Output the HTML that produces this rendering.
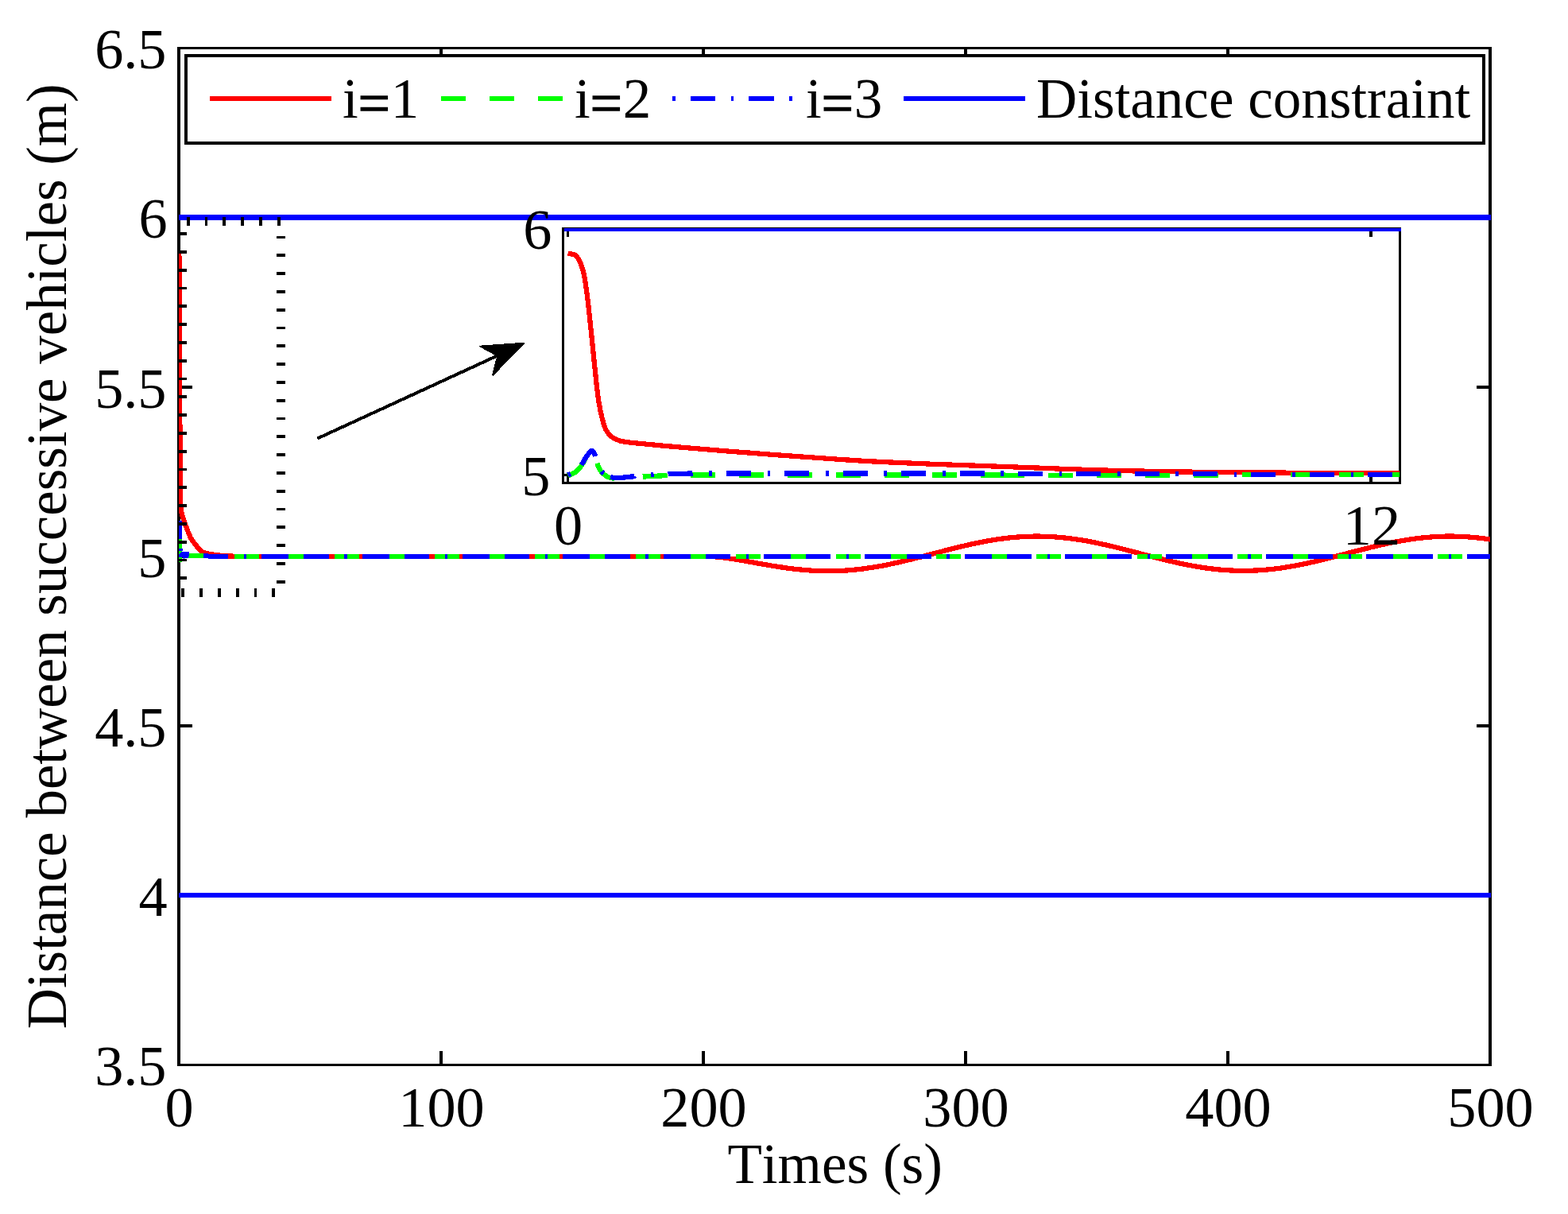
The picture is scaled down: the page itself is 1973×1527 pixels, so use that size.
<!DOCTYPE html>
<html lang="en"><head><meta charset="utf-8"><title>Distance between successive vehicles</title>
<style>html,body{margin:0;padding:0;background:#fff}body{width:1973px;height:1527px;overflow:hidden}</style>
</head><body>
<svg width="1973" height="1527" viewBox="0 0 1973 1527" style="display:block;font-family:'Liberation Serif',serif;font-kerning:none;font-variant-ligatures:none">
<defs><clipPath id="cm"><rect x="225" y="60.5" width="1650" height="1279"/></clipPath><clipPath id="ci"><rect x="708.5" y="287.5" width="1053" height="320"/></clipPath></defs>
<rect width="1973" height="1527" fill="#fff"/>
<g fill="#000" shape-rendering="crispEdges">
<rect x="223" y="59" width="1654" height="3"/>
<rect x="223" y="1338" width="1654" height="3"/>
<rect x="223" y="59" width="4" height="1282"/>
<rect x="1873" y="59" width="4" height="1282"/>
<rect x="553" y="1322" width="4" height="16"/>
<rect x="553" y="62" width="4" height="16"/>
<rect x="883" y="1322" width="4" height="16"/>
<rect x="883" y="62" width="4" height="16"/>
<rect x="1213" y="1322" width="4" height="16"/>
<rect x="1213" y="62" width="4" height="16"/>
<rect x="1543" y="1322" width="4" height="16"/>
<rect x="1543" y="62" width="4" height="16"/>
<rect x="227" y="1125" width="15" height="4"/>
<rect x="1858" y="1125" width="15" height="4"/>
<rect x="227" y="911" width="15" height="4"/>
<rect x="1858" y="911" width="15" height="4"/>
<rect x="227" y="698" width="15" height="4"/>
<rect x="1858" y="698" width="15" height="4"/>
<rect x="227" y="485" width="15" height="4"/>
<rect x="1858" y="485" width="15" height="4"/>
<rect x="227" y="272" width="15" height="4"/>
<rect x="1858" y="272" width="15" height="4"/>
</g>
<defs><clipPath id="cm2"><rect x="225" y="62" width="1651" height="1276"/></clipPath></defs>
<g clip-path="url(#cm2)" fill="none" stroke-width="6.25" shape-rendering="crispEdges" stroke-linejoin="round">
<path d="M225.0 317.0L225.2 317.6L225.3 318.8L225.5 324.9L225.7 336.4L225.8 358.4L226.0 399.4L226.2 453.8L226.3 510.7L226.5 563.7L226.7 595.9L226.8 616.6L227.0 627.2L227.1 633.5L227.3 637.2L227.5 639.8L227.6 641.5L227.8 642.6L228.0 643.4L228.1 644.1L228.3 644.7L228.5 645.3L228.6 645.8L228.8 646.3L229.0 646.9L229.1 647.5L229.3 648.1L229.5 648.6L229.6 649.2L229.8 649.7L229.9 650.2L230.1 650.8L230.3 651.3L230.4 651.8L230.6 652.3L230.8 652.8L230.9 653.3L231.1 653.7L231.3 654.2L231.4 654.7L231.6 655.2L231.8 655.7L231.9 656.1L232.1 656.6L232.3 657.1L232.4 657.5L232.6 658.0L232.8 658.5L232.9 658.9L233.1 659.4L233.2 659.9L233.4 660.3L233.6 660.8L233.7 661.2L233.9 661.7L234.1 662.1L234.2 662.6L234.4 663.0L234.6 663.4L234.7 663.9L234.9 664.3L235.1 664.7L235.2 665.2L235.4 665.6L235.6 666.0L235.7 666.5L235.9 666.9L236.1 667.3L236.2 667.7L236.4 668.1L236.5 668.5L236.7 668.9L236.9 669.3L237.0 669.8L237.2 670.2L237.4 670.6L237.5 671.0L237.7 671.4L237.9 671.8L238.0 672.2L238.2 672.6L238.4 673.0L238.5 673.4L238.7 673.8L238.9 674.2L239.0 674.5L239.2 674.9L239.4 675.3L239.5 675.6L239.7 676.0L239.8 676.3L240.0 676.6L240.2 676.9L240.3 677.2L240.5 677.5L240.7 677.7L240.8 678.0L241.0 678.3L241.2 678.5L241.3 678.8L241.5 679.1L241.7 679.3L241.8 679.5L242.0 679.8L242.2 680.0L242.3 680.3L242.5 680.5L242.7 680.7L242.8 680.9L243.0 681.2L243.1 681.4L243.3 681.6L243.5 681.8L243.6 682.0L243.8 682.2L244.0 682.5L244.1 682.7L244.3 682.9L244.5 683.1L244.6 683.3L244.8 683.5L245.0 683.7L245.1 683.9L245.3 684.1L245.5 684.3L245.6 684.5L245.8 684.7L246.0 684.9L246.1 685.1L246.3 685.4L246.4 685.6L246.6 685.8L246.8 686.0L246.9 686.2L247.1 686.4L247.3 686.6L247.4 686.9L247.6 687.1L247.8 687.3L247.9 687.5L248.1 687.8L248.3 688.0L248.4 688.2L248.6 688.4L248.8 688.6L248.9 688.9L249.1 689.1L249.3 689.3L249.4 689.5L249.6 689.7L249.7 689.9L249.9 690.1L250.1 690.3L250.2 690.5L250.4 690.7L250.6 690.9L250.7 691.1L250.9 691.3L251.1 691.5L251.2 691.6L251.4 691.8L251.6 692.0L251.7 692.1L251.9 692.3L252.1 692.4L252.2 692.6L252.4 692.7L252.6 692.9L252.7 693.0L252.9 693.1L253.0 693.2L253.2 693.3L253.4 693.4L253.5 693.6L253.7 693.7L253.9 693.8L254.0 693.9L254.2 694.0L254.4 694.1L254.5 694.2L254.7 694.3L254.9 694.4L255.0 694.5L255.2 694.5L255.4 694.6L255.5 694.7L255.7 694.8L255.9 694.8L256.0 694.9L256.2 695.0L256.4 695.0L256.5 695.1L256.7 695.2L256.8 695.2L257.0 695.3L257.2 695.3L257.3 695.4L257.5 695.4L257.7 695.5L257.8 695.5L258.0 695.6L258.2 695.6L258.3 695.7L258.5 695.7L258.7 695.8L258.8 695.8L259.0 695.8L259.2 695.9L259.3 695.9L259.5 696.0L259.7 696.0L259.8 696.0L260.0 696.1L260.1 696.1L260.3 696.2L260.5 696.2L260.6 696.2L260.8 696.3L261.0 696.3L261.1 696.3L261.3 696.4L261.5 696.4L261.6 696.4L261.8 696.5L262.0 696.5L262.1 696.5L262.3 696.6L262.5 696.6L262.6 696.6L262.8 696.7L263.0 696.7L263.1 696.7L263.3 696.8L263.4 696.8L263.6 696.8L263.8 696.9L263.9 696.9L264.1 696.9L264.3 696.9L264.4 697.0L264.6 697.0L264.8 697.0L264.9 697.0L265.1 697.1L265.3 697.1L265.4 697.1L265.6 697.2L265.8 697.2L265.9 697.2L266.1 697.2L266.3 697.3L266.4 697.3L266.6 697.3L266.7 697.3L266.9 697.4L267.1 697.4L267.2 697.4L267.4 697.4L267.6 697.5L267.7 697.5L267.9 697.5L268.1 697.6L268.2 697.6L268.4 697.6L268.6 697.6L268.7 697.7L268.9 697.7L269.1 697.7L269.2 697.7L269.4 697.7L269.6 697.8L269.7 697.8L269.9 697.8L270.0 697.8L270.2 697.9L270.4 697.9L270.5 697.9L270.7 697.9L270.9 698.0L271.0 698.0L271.2 698.0L271.4 698.0L271.5 698.0L271.7 698.1L271.9 698.1L272.0 698.1L272.2 698.1L272.4 698.1L272.5 698.2L272.7 698.2L272.9 698.2L273.0 698.2L273.2 698.2L273.3 698.3L273.5 698.3L273.7 698.3L273.8 698.3L274.0 698.3L274.2 698.4L274.3 698.4L274.5 698.4L274.7 698.4L274.8 698.4L275.0 698.5L275.2 698.5L275.3 698.5L275.5 698.5L275.7 698.5L275.8 698.5L276.0 698.6L276.2 698.6L276.3 698.6L276.5 698.6L276.6 698.6L276.8 698.6L277.0 698.6L277.1 698.7L277.3 698.7L277.5 698.7L277.6 698.7L277.8 698.7L278.0 698.7L278.1 698.7L278.3 698.8L278.5 698.8L278.6 698.8L278.8 698.8L279.0 698.8L279.1 698.8L279.3 698.8L279.5 698.9L279.6 698.9L279.8 698.9L279.9 698.9L280.1 698.9L280.3 698.9L280.4 698.9L280.6 699.0L280.8 699.0L280.9 699.0L281.1 699.0L281.3 699.0L281.4 699.0L281.6 699.0L281.8 699.0L281.9 699.1L282.1 699.1L282.3 699.1L282.4 699.1L282.6 699.1L282.8 699.1L282.9 699.1L283.1 699.1L283.2 699.1L283.4 699.2L283.6 699.2L283.7 699.2L283.9 699.2L284.1 699.2L284.2 699.2L284.4 699.2L284.6 699.2L284.7 699.2L284.9 699.3L285.1 699.3L285.2 699.3L285.4 699.3L285.6 699.3L285.7 699.3L285.9 699.3L286.1 699.3L286.2 699.3L286.4 699.4L286.5 699.4L286.7 699.4L286.9 699.4L287.0 699.4L287.2 699.4L287.4 699.4L287.5 699.4L287.7 699.4L287.9 699.4L288.0 699.4L288.2 699.4L288.4 699.5L288.5 699.5L288.7 699.5L288.9 699.5L289.0 699.5L289.2 699.5L289.4 699.5L289.5 699.5L289.7 699.5L289.8 699.5L290.0 699.5L290.2 699.5L290.3 699.5L290.5 699.6L290.7 699.6L290.8 699.6L291.0 699.6L291.2 699.6L291.3 699.6L291.5 699.6L291.7 699.6L291.8 699.6L292.0 699.6L292.2 699.6L292.3 699.6L292.5 699.6L292.7 699.6L292.8 699.6L293.0 699.6L293.1 699.7L293.3 699.7L293.5 699.7L293.6 699.7L293.8 699.7L294.0 699.7L294.1 699.7L294.3 699.7L294.5 699.7L294.6 699.7L294.8 699.7L295.0 699.7L295.1 699.7L295.3 699.7L295.5 699.7L295.6 699.7L295.8 699.8L296.0 699.8L296.1 699.8L296.3 699.8L296.4 699.8L296.6 699.8L296.8 699.8L296.9 699.8L297.1 699.8L297.3 699.8L297.4 699.8L297.6 699.8L297.8 699.8L297.9 699.8L298.1 699.8L298.3 699.8L298.4 699.8L298.6 699.8L298.8 699.8L298.9 699.9L299.1 699.9L299.3 699.9L299.4 699.9L299.6 699.9L299.7 699.9L299.9 699.9L300.1 699.9L300.2 699.9L300.4 699.9L300.6 699.9L300.7 699.9L300.9 699.9L301.1 699.9L301.2 699.9L301.4 699.9L301.6 699.9L301.7 699.9L301.9 699.9L302.1 699.9L302.2 699.9L302.4 699.9L302.6 699.9L302.7 700.0L302.9 700.0L303.0 700.0L303.2 700.0L303.4 700.0L303.5 700.0L303.7 700.0L303.9 700.0L304.0 700.0L304.2 700.0L304.4 700.0L304.5 700.0L304.7 700.0L304.9 700.0L305.0 700.0L305.2 700.0L305.4 700.0L305.5 700.0L305.7 700.0L305.9 700.0L306.0 700.0L306.2 700.0L306.3 700.0L306.5 700.0L306.7 700.0L306.8 700.0L307.0 700.0L307.2 700.0L307.3 700.0L307.5 700.0L307.7 700.0L307.8 700.0L308.0 700.0L308.2 700.0L308.3 700.0L308.5 700.0L308.7 700.0L308.8 700.0L309.0 700.0L309.2 700.0L309.3 700.0L309.5 700.0L309.6 700.0L309.8 700.0L310.0 700.0L310.1 700.0L310.3 700.0L310.5 700.0L310.6 700.0L310.8 700.0L311.0 700.0L311.1 700.0L311.3 700.0L311.5 700.0L311.6 700.0L311.8 700.0L312.0 700.0L312.1 700.0L312.3 700.0L312.5 700.0L312.6 700.0L312.8 700.0L312.9 700.0L313.1 700.0L313.3 700.0L313.4 700.0L313.6 700.0L313.8 700.0L313.9 700.0L314.1 700.0L314.3 700.0L314.4 700.0L314.6 700.0L314.8 700.0L314.9 700.0L315.1 700.0L315.3 700.0L315.4 700.0L315.6 700.0L315.8 700.0L315.9 700.0L316.1 700.0L316.2 700.0L316.4 700.0L316.6 700.0L316.7 700.0L316.9 700.0L317.1 700.0L317.2 700.0L317.4 700.0L317.6 700.0L317.7 700.0L317.9 700.0L318.1 700.0L318.2 700.0L318.4 700.0L318.6 700.0L318.7 700.0L318.9 700.0L319.1 700.0L319.2 700.0L319.4 700.0L319.5 700.0L319.7 700.0L319.9 700.0L320.0 700.0L320.2 700.0L320.4 700.0L320.5 700.0L320.7 700.0L320.9 700.0L321.0 700.0L321.2 700.0L321.4 700.0L321.5 700.0L321.7 700.0L321.9 700.0L322.0 700.0L322.2 700.0L322.4 700.0L322.5 700.0L322.7 700.0L322.8 700.0L323.0 700.0L323.2 700.0L323.3 700.0L323.5 700.0L323.7 700.0L323.8 700.0L324.0 700.0L324.2 700.0L324.3 700.0L324.5 700.0L324.7 700.0L324.8 700.0L325.0 700.0L325.2 700.0L325.3 700.0L325.5 700.0L325.7 700.0L325.8 700.0L326.0 700.0L326.1 700.0L326.3 700.0L326.5 700.0L326.6 700.0L326.8 700.0L327.0 700.0L327.1 700.0L327.3 700.0L327.5 700.0L327.6 700.0L327.8 700.0L328.0 700.0L328.1 700.0L328.3 700.0L328.5 700.0L328.6 700.0L328.8 700.0L329.0 700.0L329.1 700.0L329.3 700.0L329.4 700.0L329.6 700.0L329.8 700.0L329.9 700.0L330.1 700.0L330.3 700.0L330.4 700.0L330.6 700.0L330.8 700.0L330.9 700.0L331.1 700.0L331.3 700.0L331.4 700.0L331.6 700.0L331.8 700.0L331.9 700.0L332.1 700.0L332.3 700.0L332.4 700.0L332.6 700.0L332.7 700.0L332.9 700.0L333.1 700.0L333.2 700.0L333.4 700.0L333.6 700.0L333.7 700.0L333.9 700.0L334.1 700.0L334.2 700.0L334.4 700.0L334.6 700.0L334.7 700.0L334.9 700.0L335.1 700.0L335.2 700.0L335.4 700.0L335.6 700.0L335.7 700.0L335.9 700.0L336.0 700.0L336.2 700.0L336.4 700.0L336.5 700.0L336.7 700.0L336.9 700.0L337.0 700.0L337.2 700.0L337.4 700.0L337.5 700.0L337.7 700.0L337.9 700.0L338.0 700.0L338.2 700.0L338.4 700.0L338.5 700.0L338.7 700.0L338.9 700.0L339.0 700.0L339.2 700.0L339.3 700.0L339.5 700.0L339.7 700.0L339.8 700.0L340.0 700.0L340.2 700.0L340.3 700.0L340.5 700.0L340.7 700.0L340.8 700.0L341.0 700.0L341.2 700.0L341.3 700.0L341.5 700.0L341.7 700.0L341.8 700.0L342.0 700.0L342.2 700.0L342.3 700.0L342.5 700.0L342.6 700.0L342.8 700.0L343.0 700.0L343.1 700.0L343.3 700.0L343.5 700.0L343.6 700.0L343.8 700.0L344.0 700.0L344.1 700.0L344.3 700.0L344.5 700.0L344.6 700.0L344.8 700.0L345.0 700.0L345.1 700.0L345.3 700.0L345.5 700.0L345.6 700.0L345.8 700.0L345.9 700.0L346.1 700.0L346.3 700.0L346.4 700.0L346.6 700.0L346.8 700.0L346.9 700.0L347.1 700.0L347.3 700.0L347.4 700.0L347.6 700.0L347.8 700.0L347.9 700.0L348.1 700.0L348.3 700.0L348.4 700.0L348.6 700.0L348.8 700.0L348.9 700.0L349.1 700.0L349.2 700.0L349.4 700.0L349.6 700.0L349.7 700.0L349.9 700.0L350.1 700.0L350.2 700.0L350.4 700.0L350.6 700.0L350.7 700.0L350.9 700.0L351.1 700.0L351.2 700.0L351.4 700.0L351.6 700.0L351.7 700.0L351.9 700.0L352.0 700.0L352.2 700.0L352.4 700.0L352.5 700.0L352.7 700.0L352.9 700.0L353.0 700.0L353.2 700.0L353.4 700.0L353.5 700.0L353.7 700.0L353.9 700.0L354.0 700.0L354.2 700.0L354.4 700.0L354.5 700.0L354.7 700.0L354.9 700.0L355.0 700.0L355.2 700.0L355.3 700.0L355.5 700.0L355.7 700.0L355.8 700.0L356.0 700.0L356.2 700.0L356.3 700.0L356.5 700.0L356.7 700.0L356.8 700.0L357.0 700.0L357.2 700.0L360.5 700.0L363.8 700.0L367.1 700.0L370.4 700.0L373.7 700.0L377.0 700.0L380.3 700.0L383.6 700.0L386.9 700.0L390.2 700.0L393.5 700.0L396.8 700.0L400.1 700.0L403.4 700.0L406.7 700.0L410.0 700.0L413.3 700.0L416.6 700.0L419.9 700.0L423.2 700.0L426.5 700.0L429.8 700.0L433.1 700.0L436.4 700.0L439.7 700.0L443.0 700.0L446.3 700.0L449.6 700.0L452.9 700.0L456.2 700.0L459.5 700.0L462.8 700.0L466.1 700.0L469.4 700.0L472.7 700.0L476.0 700.0L479.3 700.0L482.6 700.0L485.9 700.0L489.2 700.0L492.5 700.0L495.8 700.0L499.1 700.0L502.4 700.0L505.7 700.0L509.0 700.0L512.3 700.0L515.6 700.0L518.9 700.0L522.2 700.0L525.5 700.0L528.8 700.0L532.1 700.0L535.4 700.0L538.7 700.0L542.0 700.0L545.3 700.0L548.6 700.0L551.9 700.0L555.2 700.0L558.5 700.0L561.8 700.0L565.1 700.0L568.4 700.0L571.7 700.0L575.0 700.0L578.3 700.0L581.6 700.0L584.9 700.0L588.2 700.0L591.5 700.0L594.8 700.0L598.1 700.0L601.4 700.0L604.7 700.0L608.0 700.0L611.3 700.0L614.6 700.0L617.9 700.0L621.2 700.0L624.5 700.0L627.8 700.0L631.1 700.0L634.4 700.0L637.7 700.0L641.0 700.0L644.3 700.0L647.6 700.0L650.9 700.0L654.2 700.0L657.5 700.0L660.8 700.0L664.1 700.0L667.4 700.0L670.7 700.0L674.0 700.0L677.3 700.0L680.6 700.0L683.9 700.0L687.2 700.0L690.5 700.0L693.8 700.0L697.1 700.0L700.4 700.0L703.7 700.0L707.0 700.0L710.3 700.0L713.6 700.0L716.9 700.0L720.2 700.0L723.5 700.0L726.8 700.0L730.1 700.0L733.4 700.0L736.7 700.0L740.0 700.0L743.3 700.0L746.6 700.0L749.9 700.0L753.2 700.0L756.5 700.0L759.8 700.0L763.1 700.0L766.4 700.0L769.7 700.0L773.0 700.0L776.3 700.0L779.6 700.0L782.9 700.0L786.2 700.0L789.5 700.0L792.8 700.0L796.1 700.0L799.4 700.0L802.7 700.0L806.0 700.0L809.3 700.0L812.6 700.0L815.9 700.0L819.2 700.0L822.5 700.0L825.8 700.0L829.1 700.0L832.4 700.0L835.7 700.0L839.0 700.0L842.3 700.0L845.6 700.0L848.9 700.0L852.2 700.0L855.5 700.0L858.8 700.0L862.1 700.0L865.4 700.0L868.7 700.0L872.0 700.0L875.3 700.0L878.6 700.0L881.9 700.0L885.2 700.0L888.5 700.0L891.8 700.0L895.1 700.0L898.4 700.2L901.7 700.5L905.0 700.8L908.3 701.2L911.6 701.6L914.9 702.0L918.2 702.5L921.5 703.0L924.8 703.5L928.1 704.0L931.4 704.6L934.7 705.2L938.0 705.7L941.3 706.3L944.6 706.9L947.9 707.5L951.2 708.1L954.5 708.7L957.8 709.3L961.1 709.9L964.4 710.4L967.7 711.0L971.0 711.6L974.3 712.1L977.6 712.6L980.9 713.1L984.2 713.6L987.5 714.1L990.8 714.6L994.1 715.0L997.4 715.4L1000.7 715.8L1004.0 716.2L1007.3 716.5L1010.6 716.8L1013.9 717.1L1017.2 717.3L1020.5 717.6L1023.8 717.8L1027.1 717.9L1030.4 718.1L1033.7 718.2L1037.0 718.2L1040.3 718.3L1043.6 718.3L1046.9 718.2L1050.2 718.2L1053.5 718.1L1056.8 717.9L1060.1 717.8L1063.4 717.6L1066.7 717.4L1070.0 717.1L1073.3 716.8L1076.6 716.5L1079.9 716.2L1083.2 715.8L1086.5 715.4L1089.8 714.9L1093.1 714.4L1096.4 713.9L1099.7 713.4L1103.0 712.9L1106.3 712.3L1109.6 711.7L1112.9 711.1L1116.2 710.4L1119.5 709.7L1122.8 709.0L1126.1 708.3L1129.4 707.6L1132.7 706.8L1136.0 706.1L1139.3 705.3L1142.6 704.5L1145.9 703.7L1149.2 702.9L1152.5 702.0L1155.8 701.2L1159.1 700.4L1162.4 699.5L1165.7 698.6L1169.0 697.8L1172.3 696.9L1175.6 696.1L1178.9 695.2L1182.2 694.3L1185.5 693.5L1188.8 692.6L1192.1 691.8L1195.4 690.9L1198.7 690.1L1202.0 689.3L1205.3 688.4L1208.6 687.6L1211.9 686.9L1215.2 686.1L1218.5 685.3L1221.8 684.6L1225.1 683.9L1228.4 683.2L1231.7 682.5L1235.0 681.8L1238.3 681.2L1241.6 680.6L1244.9 680.0L1248.2 679.5L1251.5 678.9L1254.8 678.4L1258.1 677.9L1261.4 677.5L1264.7 677.1L1268.0 676.7L1271.3 676.3L1274.6 676.0L1277.9 675.7L1281.2 675.5L1284.5 675.2L1287.8 675.0L1291.1 674.9L1294.4 674.8L1297.7 674.7L1301.0 674.6L1304.3 674.6L1307.6 674.6L1310.9 674.7L1314.2 674.7L1317.5 674.8L1320.8 675.0L1324.1 675.2L1327.4 675.4L1330.7 675.7L1334.0 675.9L1337.3 676.3L1340.6 676.6L1343.9 677.0L1347.2 677.4L1350.5 677.8L1353.8 678.3L1357.1 678.8L1360.4 679.3L1363.7 679.9L1367.0 680.4L1370.3 681.0L1373.6 681.7L1376.9 682.3L1380.2 683.0L1383.5 683.7L1386.8 684.4L1390.1 685.1L1393.4 685.9L1396.7 686.7L1400.0 687.4L1403.3 688.2L1406.6 689.0L1409.9 689.9L1413.2 690.7L1416.5 691.5L1419.8 692.4L1423.1 693.2L1426.4 694.1L1429.7 695.0L1433.0 695.8L1436.3 696.7L1439.6 697.5L1442.9 698.4L1446.2 699.3L1449.5 700.1L1452.8 701.0L1456.1 701.8L1459.4 702.6L1462.7 703.5L1466.0 704.3L1469.3 705.1L1472.6 705.8L1475.9 706.6L1479.2 707.4L1482.5 708.1L1485.8 708.8L1489.1 709.5L1492.4 710.2L1495.7 710.8L1499.0 711.4L1502.3 712.1L1505.6 712.6L1508.9 713.2L1512.2 713.7L1515.5 714.2L1518.8 714.7L1522.1 715.1L1525.4 715.5L1528.7 715.9L1532.0 716.2L1535.3 716.6L1538.6 716.8L1541.9 717.1L1545.2 717.3L1548.5 717.5L1551.8 717.6L1555.1 717.8L1558.4 717.8L1561.7 717.9L1565.0 717.9L1568.3 717.9L1571.6 717.8L1574.9 717.7L1578.2 717.6L1581.5 717.5L1584.8 717.3L1588.1 717.0L1591.4 716.8L1594.7 716.5L1598.0 716.2L1601.3 715.8L1604.6 715.4L1607.9 715.0L1611.2 714.6L1614.5 714.1L1617.8 713.6L1621.1 713.0L1624.4 712.5L1627.7 711.9L1631.0 711.3L1634.3 710.7L1637.6 710.0L1640.9 709.3L1644.2 708.6L1647.5 707.9L1650.8 707.2L1654.1 706.4L1657.4 705.6L1660.7 704.9L1664.0 704.1L1667.3 703.2L1670.6 702.4L1673.9 701.6L1677.2 700.8L1680.5 699.9L1683.8 699.0L1687.1 698.2L1690.4 697.3L1693.7 696.5L1697.0 695.6L1700.3 694.7L1703.6 693.9L1706.9 693.0L1710.2 692.2L1713.5 691.3L1716.8 690.5L1720.1 689.7L1723.4 688.8L1726.7 688.0L1730.0 687.2L1733.3 686.5L1736.6 685.7L1739.9 685.0L1743.2 684.2L1746.5 683.5L1749.8 682.8L1753.1 682.2L1756.4 681.5L1759.7 680.9L1763.0 680.3L1766.3 679.7L1769.6 679.2L1772.9 678.7L1776.2 678.2L1779.5 677.7L1782.8 677.3L1786.1 676.9L1789.4 676.5L1792.7 676.2L1796.0 675.9L1799.3 675.6L1802.6 675.3L1805.9 675.1L1809.2 675.0L1812.5 674.8L1815.8 674.7L1819.1 674.6L1822.4 674.6L1825.7 674.6L1829.0 674.6L1832.3 674.7L1835.6 674.8L1838.9 674.9L1842.2 675.1L1845.5 675.3L1848.8 675.5L1852.1 675.8L1855.4 676.1L1858.7 676.4L1862.0 676.8L1865.3 677.2L1868.6 677.6L1871.9 678.1L1875.0 678.5" stroke="#f00"/>
<rect x="225" y="677" width="4" height="30" fill="#0f0"/>
<rect x="225" y="655" width="4" height="23" fill="#00f"/>
<rect x="225" y="690" width="5" height="3" fill="#00f"/>
<path d="M229.0 701.0L229.5 700.2L230.0 699.7L230.5 699.2L231.0 698.9L231.5 698.7L232.0 698.7L232.5 698.7L233.0 698.7L233.5 698.7L234.0 698.7L234.5 698.7L235.0 698.7L235.5 698.7L236.0 698.7L236.5 698.7L237.0 698.7L237.5 698.7L238.0 698.7L238.5 698.7L239.0 698.7L239.5 698.7L240.0 698.7L240.5 698.7L241.0 698.8L241.5 698.8L242.0 698.8L242.5 698.8L243.0 698.8L243.5 698.8L244.0 698.9L244.5 698.9L245.0 698.9L245.5 698.9L246.0 698.9L246.5 699.0L247.0 699.0L247.5 699.0L248.0 699.0L248.5 699.0L249.0 699.1L249.5 699.1L250.0 699.1L250.5 699.1L251.0 699.1L251.5 699.2L252.0 699.2L252.5 699.2L253.0 699.2L253.5 699.2L254.0 699.2L254.5 699.2L255.0 699.3L255.5 699.3L256.0 699.3L256.5 699.3L257.0 699.3L257.5 699.3L258.0 699.3L258.5 699.4L259.0 699.4L259.5 699.4L260.0 699.4L260.5 699.4L261.0 699.4L261.5 699.4L262.0 699.5L262.5 699.5L263.0 699.5L263.5 699.5L264.0 699.5L264.5 699.5L265.0 699.5L265.5 699.5L266.0 699.5L266.5 699.6L267.0 699.6L267.5 699.6L268.0 699.6L268.5 699.6L269.0 699.6L269.5 699.6L270.0 699.6L270.5 699.6L271.0 699.6L271.5 699.6L272.0 699.6L272.5 699.6L273.0 699.6L273.5 699.6L274.0 699.7L274.5 699.7L275.0 699.7L275.5 699.7L276.0 699.7L276.5 699.7L277.0 699.7L277.5 699.7L278.0 699.7L278.5 699.7L279.0 699.7L279.5 699.7L280.0 699.7L280.5 699.7L281.0 699.7L281.5 699.7L282.0 699.7L282.5 699.7L283.0 699.8L283.5 699.8L284.0 699.8L284.5 699.8L285.0 699.8L285.5 699.8L286.0 699.8L286.5 699.8L287.0 699.8L287.5 699.8L288.0 699.8L288.5 699.8L289.0 699.8L289.5 699.8L290.0 699.8L290.5 699.8L291.0 699.8L291.5 699.8L292.0 699.8L292.5 699.8L293.0 699.9L293.5 699.9L294.0 699.9L294.5 699.9L295.0 699.9L295.5 699.9L296.0 699.9L296.5 699.9L297.0 699.9L297.5 699.9L298.0 699.9L298.5 699.9L299.0 699.9L299.5 699.9L300.0 699.9L300.5 699.9L301.0 699.9L301.5 699.9L302.0 699.9L302.5 699.9L303.0 699.9L303.5 699.9L304.0 699.9L304.5 699.9L305.0 699.9L305.5 699.9L306.0 699.9L306.5 700.0L307.0 700.0L307.5 700.0L308.0 700.0L308.5 700.0L309.0 700.0L309.5 700.0L310.0 700.0L310.5 700.0L311.0 700.0L311.5 700.0L312.0 700.0L312.5 700.0L313.0 700.0L313.5 700.0L314.0 700.0L314.5 700.0L315.0 700.0L315.5 700.0L316.0 700.0L316.5 700.0L317.0 700.0L317.5 700.0L318.0 700.0L318.5 700.0L319.0 700.0L319.5 700.0L320.0 700.0L320.5 700.0L321.0 700.0L321.5 700.0L322.0 700.0L322.5 700.0L323.0 700.0L323.5 700.0L324.0 700.0L324.5 700.0L325.0 700.0L325.5 700.0L326.0 700.0L326.5 700.0L327.0 700.0L327.5 700.0L328.0 700.0L328.5 700.0L1875.0 700.0" stroke="#0f0" stroke-width="6" stroke-dasharray="31.0 32.100" stroke-dashoffset="59.3"/>
<path d="M229.0 701.0L229.5 700.2L230.0 699.7L230.5 699.2L231.0 698.9L231.5 698.7L232.0 698.7L232.5 698.7L233.0 698.7L233.5 698.7L234.0 698.7L234.5 698.7L235.0 698.7L235.5 698.7L236.0 698.7L236.5 698.7L237.0 698.7L237.5 698.7L238.0 698.7L238.5 698.7L239.0 698.7L239.5 698.7L240.0 698.7L240.5 698.7L241.0 698.8L241.5 698.8L242.0 698.8L242.5 698.8L243.0 698.8L243.5 698.8L244.0 698.9L244.5 698.9L245.0 698.9L245.5 698.9L246.0 698.9L246.5 699.0L247.0 699.0L247.5 699.0L248.0 699.0L248.5 699.0L249.0 699.1L249.5 699.1L250.0 699.1L250.5 699.1L251.0 699.1L251.5 699.2L252.0 699.2L252.5 699.2L253.0 699.2L253.5 699.2L254.0 699.2L254.5 699.2L255.0 699.3L255.5 699.3L256.0 699.3L256.5 699.3L257.0 699.3L257.5 699.3L258.0 699.3L258.5 699.4L259.0 699.4L259.5 699.4L260.0 699.4L260.5 699.4L261.0 699.4L261.5 699.4L262.0 699.5L262.5 699.5L263.0 699.5L263.5 699.5L264.0 699.5L264.5 699.5L265.0 699.5L265.5 699.5L266.0 699.5L266.5 699.6L267.0 699.6L267.5 699.6L268.0 699.6L268.5 699.6L269.0 699.6L269.5 699.6L270.0 699.6L270.5 699.6L271.0 699.6L271.5 699.6L272.0 699.6L272.5 699.6L273.0 699.6L273.5 699.6L274.0 699.7L274.5 699.7L275.0 699.7L275.5 699.7L276.0 699.7L276.5 699.7L277.0 699.7L277.5 699.7L278.0 699.7L278.5 699.7L279.0 699.7L279.5 699.7L280.0 699.7L280.5 699.7L281.0 699.7L281.5 699.7L282.0 699.7L282.5 699.7L283.0 699.8L283.5 699.8L284.0 699.8L284.5 699.8L285.0 699.8L285.5 699.8L286.0 699.8L286.5 699.8L287.0 699.8L287.5 699.8L288.0 699.8L288.5 699.8L289.0 699.8L289.5 699.8L290.0 699.8L290.5 699.8L291.0 699.8L291.5 699.8L292.0 699.8L292.5 699.8L293.0 699.9L293.5 699.9L294.0 699.9L294.5 699.9L295.0 699.9L295.5 699.9L296.0 699.9L296.5 699.9L297.0 699.9L297.5 699.9L298.0 699.9L298.5 699.9L299.0 699.9L299.5 699.9L300.0 699.9L300.5 699.9L301.0 699.9L301.5 699.9L302.0 699.9L302.5 699.9L303.0 699.9L303.5 699.9L304.0 699.9L304.5 699.9L305.0 699.9L305.5 699.9L306.0 699.9L306.5 700.0L307.0 700.0L307.5 700.0L308.0 700.0L308.5 700.0L309.0 700.0L309.5 700.0L310.0 700.0L310.5 700.0L311.0 700.0L311.5 700.0L312.0 700.0L312.5 700.0L313.0 700.0L313.5 700.0L314.0 700.0L314.5 700.0L315.0 700.0L315.5 700.0L316.0 700.0L316.5 700.0L317.0 700.0L317.5 700.0L318.0 700.0L318.5 700.0L319.0 700.0L319.5 700.0L320.0 700.0L320.5 700.0L321.0 700.0L321.5 700.0L322.0 700.0L322.5 700.0L323.0 700.0L323.5 700.0L324.0 700.0L324.5 700.0L325.0 700.0L325.5 700.0L326.0 700.0L326.5 700.0L327.0 700.0L327.5 700.0L328.0 700.0L328.5 700.0L1875.0 700.0" stroke="#00f" stroke-width="6" stroke-dasharray="33.8 19.2 31.2 19.7 3.2 19.25" stroke-dashoffset="24.8"/>
<path d="M225 697.5L229 694H238V700L231 701H225Z" fill="#00f"/>
<rect x="225" y="270" width="1651" height="7" fill="#00f"/>
<rect x="225" y="1123" width="1651" height="6" fill="#00f"/>
</g>
<g shape-rendering="crispEdges">
<rect x="234" y="70" width="1633" height="110" fill="#fff" stroke="#000" stroke-width="4"/>
<path d="M264 121h153v6h-153z" fill="#f00"/>
<path d="M555 121h31v6h-31zM616 121h31v6h-31zM677 121h31v6h-31z" fill="#0f0"/>
<path d="M846 121h4v6h-4zM869 121h31v6h-31zM920 121h3v6h-3zM942 121h32v6h-32zM993 121h4v6h-4z" fill="#00f"/>
<path d="M1137 121h153v6h-153z" fill="#00f"/>
</g>
<g font-size="71px" fill="#000">
<text x="431" y="148">i<tspan dy="5.6" stroke="#000" stroke-width="1.5">=</tspan><tspan dy="-5.6" dx="1">1</tspan></text>
<text x="723" y="148">i<tspan dy="5.6" stroke="#000" stroke-width="1.5">=</tspan><tspan dy="-5.6" dx="1">2</tspan></text>
<text x="1014" y="148">i<tspan dy="5.6" stroke="#000" stroke-width="1.5">=</tspan><tspan dy="-5.6" dx="1">3</tspan></text>
<text x="1304" y="148">Distance constraint</text>
</g>
<g shape-rendering="crispEdges">
<rect x="708.5" y="287.5" width="1053" height="320" fill="#fff" stroke="#000" stroke-width="3"/>
<g fill="#000">
<rect x="713" y="289" width="3" height="9"/>
<rect x="713" y="597" width="3" height="9"/>
<rect x="1723" y="289" width="4" height="9"/>
<rect x="1723" y="597" width="4" height="9"/>
<rect x="710" y="596" width="10" height="3"/>
<rect x="1750" y="596" width="10" height="3"/>
</g></g>
<defs><clipPath id="ci2"><rect x="710" y="287" width="1051" height="319"/></clipPath></defs>
<g clip-path="url(#ci2)" fill="none" stroke-width="6.25" shape-rendering="crispEdges" stroke-linejoin="round">
<path d="M714.5 319.0L715.3 319.1L716.2 319.2L717.0 319.3L717.9 319.4L718.7 319.5L719.6 319.6L720.4 319.7L721.2 319.8L722.1 320.0L722.9 320.3L723.8 320.8L724.6 321.5L725.4 322.4L726.3 323.5L727.1 324.7L728.0 326.1L728.8 327.5L729.7 329.0L730.5 330.9L731.3 333.1L732.2 335.6L733.0 338.4L733.9 341.5L734.7 344.9L735.6 349.1L736.4 354.1L737.2 359.7L738.1 365.9L738.9 372.2L739.8 378.9L740.6 386.3L741.4 394.1L742.3 402.2L743.1 410.4L744.0 418.4L744.8 426.7L745.7 435.1L746.5 443.4L747.3 451.7L748.2 459.8L749.0 468.0L749.9 476.4L750.7 484.5L751.6 491.9L752.4 498.3L753.2 503.9L754.1 509.0L754.9 513.7L755.8 518.0L756.6 521.8L757.4 525.2L758.3 528.4L759.1 531.5L760.0 534.3L760.8 536.8L761.7 538.9L762.5 540.6L763.3 542.0L764.2 543.3L765.0 544.5L765.9 545.6L766.7 546.6L767.6 547.5L768.4 548.3L769.2 549.0L770.1 549.7L770.9 550.3L771.8 550.8L772.6 551.3L773.4 551.7L774.3 552.2L775.1 552.6L776.0 553.0L776.8 553.3L777.7 553.6L778.5 553.9L779.3 554.2L780.2 554.5L781.0 554.7L781.9 554.9L782.7 555.1L783.6 555.2L784.4 555.4L785.2 555.5L786.1 555.7L786.9 555.8L787.8 555.9L788.6 556.0L789.4 556.2L790.3 556.3L791.1 556.4L792.0 556.5L792.8 556.6L793.7 556.7L794.5 556.8L795.3 556.9L796.2 557.0L797.0 557.1L797.9 557.1L798.7 557.2L799.6 557.3L800.4 557.4L801.2 557.5L802.1 557.5L802.9 557.6L803.8 557.7L804.6 557.8L805.4 557.8L806.3 557.9L807.1 558.0L808.0 558.1L808.8 558.1L809.7 558.2L810.5 558.3L811.3 558.4L812.2 558.5L813.0 558.6L813.9 558.7L814.7 558.7L815.6 558.8L824.0 559.7L832.4 560.5L840.8 561.2L849.2 562.0L857.7 562.7L866.1 563.4L874.5 564.1L882.9 564.8L891.3 565.5L899.8 566.2L908.2 566.9L916.6 567.6L925.0 568.2L933.4 568.9L941.9 569.5L950.3 570.2L958.7 570.8L967.1 571.5L975.5 572.1L984.0 572.7L992.4 573.3L1000.8 573.9L1009.2 574.5L1017.7 575.1L1026.1 575.7L1034.5 576.3L1042.9 576.9L1051.3 577.5L1059.8 578.1L1068.2 578.6L1076.6 579.2L1085.0 579.7L1093.4 580.2L1101.9 580.6L1110.3 581.0L1118.7 581.4L1127.1 581.8L1135.5 582.2L1144.0 582.5L1152.4 582.9L1160.8 583.2L1169.2 583.6L1177.6 583.9L1186.1 584.2L1194.5 584.5L1202.9 584.8L1211.3 585.1L1219.7 585.4L1228.2 585.7L1236.6 586.0L1245.0 586.3L1253.4 586.6L1261.9 586.9L1270.3 587.2L1278.7 587.5L1287.1 587.9L1295.5 588.2L1304.0 588.5L1312.4 588.8L1320.8 589.1L1329.2 589.5L1337.6 589.8L1346.1 590.1L1354.5 590.4L1362.9 590.7L1371.3 590.9L1379.7 591.2L1388.2 591.5L1396.6 591.7L1405.0 591.9L1413.4 592.1L1421.8 592.3L1430.3 592.5L1438.7 592.6L1447.1 592.8L1455.5 593.0L1464.0 593.1L1472.4 593.2L1480.8 593.4L1489.2 593.5L1497.6 593.6L1506.1 593.7L1514.5 593.8L1522.9 593.9L1531.3 594.0L1539.7 594.0L1548.2 594.1L1556.6 594.2L1565.0 594.2L1573.4 594.3L1581.8 594.4L1590.3 594.4L1598.7 594.5L1607.1 594.6L1615.5 594.6L1623.9 594.7L1632.4 594.7L1640.8 594.8L1649.2 594.8L1657.6 594.9L1666.1 594.9L1674.5 595.0L1682.9 595.0L1691.3 595.0L1699.7 595.1L1708.2 595.1L1716.6 595.2L1725.0 595.2L1733.4 595.3L1741.8 595.3L1750.3 595.3L1758.7 595.4L1767.1 595.4L1775.5 595.5L1775.5 595.5" stroke="#f00"/>
<path d="M714.5 598.4L715.3 598.0L716.2 597.7L717.0 597.4L717.9 597.1L718.7 596.7L719.6 596.4L720.4 596.0L721.2 595.6L722.1 595.2L722.9 594.7L723.8 594.1L724.6 593.5L725.4 592.7L726.3 591.9L727.1 591.0L728.0 590.1L728.8 589.1L729.7 588.1L730.5 587.1L731.3 586.0L732.2 584.8L733.0 583.5L733.9 582.1L734.7 580.6L735.6 579.1L736.4 577.7L737.2 576.3L738.1 575.2L738.9 574.0L739.8 572.8L740.6 571.5L741.4 570.4L742.3 569.4L743.1 568.6L744.0 568.1L744.8 568.1L745.7 568.5L746.5 569.5L747.3 570.7L748.2 572.1L749.0 574.1L749.9 577.1L750.7 580.5L751.6 583.6L752.4 586.0L753.2 587.7L754.1 589.3L754.9 590.8L755.8 592.1L756.6 593.2L757.4 594.2L758.3 595.0L759.1 595.8L760.0 596.5L760.8 597.2L761.7 597.9L762.5 598.5L763.3 599.1L764.2 599.5L765.0 600.0L765.9 600.3L766.7 600.6L767.6 600.8L768.4 601.0L769.2 601.2L770.1 601.4L770.9 601.6L771.8 601.7L772.6 601.9L773.4 602.0L774.3 602.1L775.1 602.1L776.0 602.1L776.8 602.1L777.7 602.1L778.5 602.1L779.3 602.0L780.2 602.0L781.0 601.9L781.9 601.9L782.7 601.8L783.6 601.7L784.4 601.6L785.2 601.5L786.1 601.5L786.9 601.4L787.8 601.3L788.6 601.2L789.4 601.1L790.0 601.0" stroke="#0f0" stroke-dasharray="31.0 29.8"/>
<path d="M790.0 601.0L790.3 601.0L791.1 600.9L792.0 600.8L792.8 600.7L793.7 600.6L794.5 600.5L795.3 600.5L796.2 600.4L797.0 600.3L797.9 600.3L798.7 600.2L799.6 600.1L800.4 600.1L801.2 600.0L802.1 600.0L802.9 599.9L803.8 599.9L804.6 599.8L805.4 599.8L806.3 599.7L807.1 599.7L808.0 599.6L808.8 599.6L809.7 599.5L810.5 599.5L811.3 599.4L812.2 599.4L813.0 599.3L813.9 599.3L814.7 599.2L815.6 599.2L824.0 598.8L832.4 598.4L840.8 598.2L849.2 598.0L857.7 597.8L866.1 597.6L874.5 597.5L882.9 597.5L891.3 597.5L899.8 597.5L908.2 597.5L916.6 597.5L925.0 597.5L933.4 597.5L941.9 597.5L950.3 597.5L958.7 597.5L967.1 597.5L975.5 597.5L984.0 597.5L992.4 597.5L1000.8 597.5L1009.2 597.5L1017.7 597.5L1026.1 597.5L1034.5 597.5L1042.9 597.5L1051.3 597.5L1059.8 597.5L1068.2 597.5L1076.6 597.5L1085.0 597.5L1093.4 597.5L1101.9 597.5L1110.3 597.5L1118.7 597.5L1127.1 597.5L1135.5 597.5L1144.0 597.5L1152.4 597.5L1160.8 597.5L1169.2 597.5L1177.6 597.5L1186.1 597.6L1194.5 597.6L1202.9 597.6L1211.3 597.6L1219.7 597.6L1228.2 597.6L1236.6 597.6L1245.0 597.6L1253.4 597.6L1258.0 597.6" stroke="#0f0" stroke-dasharray="31.0 29.8" stroke-dashoffset="42.1"/>
<path d="M1258.0 597.6L1261.9 597.6L1270.3 597.7L1278.7 597.7L1287.1 597.7L1295.5 597.7L1304.0 597.7L1312.4 597.7L1320.8 597.7L1329.2 597.7L1337.6 597.7L1346.1 597.7L1354.5 597.7L1362.9 597.8L1371.3 597.8L1379.7 597.8L1388.2 597.8L1396.6 597.8L1405.0 597.8L1413.4 597.8L1421.8 597.8L1430.3 597.8L1438.7 597.8L1447.1 597.8L1455.5 597.8L1464.0 597.8L1472.4 597.9L1480.8 597.9L1489.2 597.9L1497.6 597.9L1506.1 597.9L1514.5 597.9L1522.9 597.9L1531.3 597.9L1539.7 597.9L1548.2 597.9L1556.6 597.0L1565.0 597.0L1573.4 597.0L1581.8 597.0L1590.3 597.0L1598.7 597.0L1607.1 597.0L1615.5 597.0L1623.9 597.0L1632.4 597.0L1640.8 597.0L1649.2 597.0L1657.6 597.0L1666.1 597.0L1674.5 597.0L1682.9 597.0L1691.3 597.0L1699.7 597.0L1708.2 597.0L1716.6 597.0L1725.0 597.0L1733.4 597.0L1741.8 597.0L1750.3 597.0L1758.7 597.0L1767.1 597.0L1775.5 597.0L1775.5 597.0" stroke="#0f0" stroke-dasharray="31.0 30"/>
<path d="M714.5 597.4L715.3 597.0L716.2 596.7L717.0 596.4L717.9 596.1L718.7 595.7L719.6 595.4L720.4 595.0L721.2 594.6L722.1 594.2L722.9 593.7L723.8 593.1L724.6 592.5L725.4 591.7L726.3 590.9L727.1 590.0L728.0 589.1L728.8 588.1L729.7 587.1L730.5 586.1L731.3 585.0L732.2 583.8L733.0 582.5L733.9 581.1L734.7 579.6L735.6 578.1L736.4 576.7L737.2 575.3L738.1 574.2L738.9 573.0L739.8 571.8L740.6 570.5L741.4 569.4L742.3 568.4L743.1 567.6L744.0 567.1L744.8 567.1L745.7 567.5L746.5 568.5L747.3 569.7L748.2 571.1L749.0 573.1L749.9 576.1L750.7 579.5L751.6 582.6L752.4 585.0L753.2 586.7L754.1 588.3L754.9 589.8L755.8 591.1L756.6 592.2L757.4 593.2L758.3 594.0L759.1 594.8L760.0 595.5L760.8 596.2L761.7 596.9L762.5 597.5L763.3 598.1L764.0 598.4" stroke="#00f" stroke-dasharray="3.7 18.0 31.0 20.7"/>
<path d="M764.0 598.4L764.2 598.5L765.0 599.0L765.9 599.3L766.7 599.6L767.6 599.8L768.4 600.0L769.2 600.2L770.1 600.4L770.9 600.6L771.8 600.7L772.6 600.9L773.4 601.0L774.3 601.1L775.1 601.1L776.0 601.1L776.8 601.1L777.7 601.1L778.5 601.1L779.3 601.0L780.2 601.0L781.0 600.9L781.9 600.9L782.7 600.8L783.6 600.7L784.4 600.6L785.2 600.5L786.1 600.5L786.9 600.4L787.8 600.3L788.6 600.2L789.4 600.1L790.3 600.0L791.1 599.9L792.0 599.8L792.8 599.7L793.7 599.6L794.5 599.5L795.3 599.5L796.2 599.4L797.0 599.3L797.9 599.3L798.7 598.2L799.6 598.1L800.4 598.1L801.2 598.0L802.1 598.0L802.9 597.9L803.8 597.9L804.6 597.8L805.4 597.8L806.3 597.7L807.1 597.7L808.0 597.6L808.8 597.6L809.7 597.5L810.5 597.5L811.3 597.4L812.2 597.4L813.0 597.3L813.9 597.3L814.7 597.2L815.6 597.2L824.0 596.8L832.4 596.4L840.8 596.2L849.2 596.0L857.7 595.8L866.1 595.6L874.5 595.5L882.9 595.5L891.3 595.5L899.8 595.5L908.2 595.5L916.6 595.5L925.0 595.5L933.4 595.5L941.9 595.5L950.3 595.5L958.7 595.5L967.1 595.5L975.5 595.5L984.0 595.5L992.4 595.5L1000.8 595.5L1009.2 595.5L1017.7 595.5L1026.1 595.5L1034.5 595.5L1042.9 595.5L1051.3 595.5L1059.8 595.5L1068.2 595.5L1076.6 595.5L1085.0 595.5L1093.4 595.5L1101.9 595.5L1110.3 595.5L1118.7 595.5L1127.1 595.5L1135.5 595.5L1144.0 595.5L1152.4 595.5L1160.8 595.5L1169.2 595.5L1177.6 595.5L1186.1 595.6L1194.5 595.6L1202.9 595.6L1211.3 595.6L1219.7 595.6L1228.2 595.6L1236.6 595.6L1245.0 595.6L1253.4 595.6L1261.9 595.6L1270.3 595.7L1278.7 595.7L1287.1 595.7L1295.5 595.7L1304.0 595.7L1312.4 595.7L1320.8 595.7L1329.2 595.7L1337.6 595.7L1346.1 595.7L1354.5 595.7L1362.9 595.8L1371.3 595.8L1379.7 595.8L1388.2 595.8L1396.6 595.8L1405.0 595.8L1413.4 595.8L1421.8 595.8L1430.3 595.8L1438.7 595.8L1447.1 595.8L1455.5 595.8L1464.0 595.8L1472.4 595.9L1480.8 595.9L1489.2 595.9L1497.6 595.9L1506.1 595.9L1514.5 595.9L1522.9 595.9L1531.3 595.9L1539.7 595.9L1548.2 597.0L1556.6 597.0L1565.0 597.0L1573.4 597.0L1581.8 597.0L1590.3 597.0L1598.7 597.0L1607.1 597.0L1615.5 597.0L1623.9 597.0L1632.4 597.0L1640.8 597.0L1649.2 597.0L1657.6 597.0L1666.1 597.0L1674.5 597.0L1682.9 597.0L1691.3 597.0L1699.7 597.0L1708.2 597.0L1716.6 597.0L1725.0 597.0L1733.4 597.0L1741.8 597.0L1750.3 597.0L1758.7 597.0L1767.1 597.0L1775.5 597.0L1775.5 597.0" stroke="#00f" stroke-dasharray="3.7 18.0 31.0 20.7" stroke-dashoffset="17.4"/>
</g>
<rect x="710" y="287" width="1053" height="4" fill="#00f" shape-rendering="crispEdges"/>
<path d="M229.6 745.4V278.5H353.5V745.4H226" fill="none" stroke="#000" stroke-width="10.8" stroke-dasharray="3.8 19" stroke-dashoffset="-16.2" shape-rendering="crispEdges"/>
<g shape-rendering="crispEdges">
<path d="M399.3 551.6L628 446.4" stroke="#000" stroke-width="4" fill="none"/>
<path d="M659.2 431.7L604.3 435.6L626.3 447.6L620.1 471.7Z" fill="#000" stroke="#000" stroke-width="2" stroke-linejoin="round"/>
</g>
<g fill="#000" font-size="72.3px">
<text x="225.5" y="1417" text-anchor="middle">0</text>
<text x="555.5" y="1417" text-anchor="middle">100</text>
<text x="885.5" y="1417" text-anchor="middle">200</text>
<text x="1215.5" y="1417" text-anchor="middle">300</text>
<text x="1545.5" y="1417" text-anchor="middle">400</text>
<text x="1875.5" y="1417" text-anchor="middle">500</text>
<text x="209.5" y="1365.2" text-anchor="end">3.5</text>
<text x="210.7" y="1152.0" text-anchor="end">4</text>
<text x="209.5" y="938.9" text-anchor="end">4.5</text>
<text x="209.5" y="725.7" text-anchor="end">5</text>
<text x="209.5" y="512.5" text-anchor="end">5.5</text>
<text x="210.7" y="299.4" text-anchor="end">6</text>
<text x="209.5" y="86.2" text-anchor="end">6.5</text>
<text x="694.5" y="313" text-anchor="end">6</text>
<text x="692.5" y="622.8" text-anchor="end">5</text>
<text x="715" y="684.6" text-anchor="middle">0</text>
<text x="1726" y="685.2" text-anchor="middle">12</text>
</g>
<g fill="#000" font-size="71.1px">
<text x="1050.7" y="1487.6" text-anchor="middle">Times (s)</text>
<text transform="translate(83.3 699.85) rotate(-90)" text-anchor="middle" font-size="70.9px">Distance between successive vehicles (m)</text>
</g>
</svg>
</body></html>
